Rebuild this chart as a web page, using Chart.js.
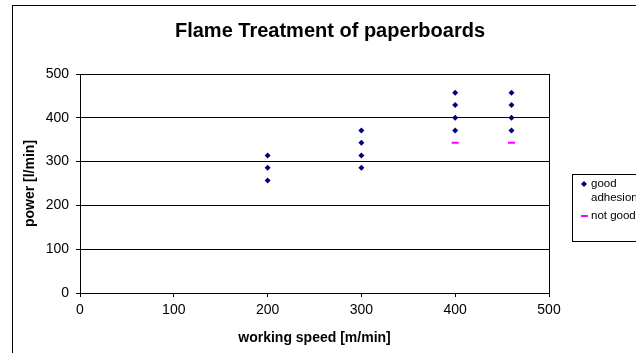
<!DOCTYPE html>
<html>
<head>
<meta charset="utf-8">
<script src="https://cdn.jsdelivr.net/npm/chart.js@4"></script>
<style>
  html, body { margin: 0; padding: 0; background: #ffffff; }
  #c { display: block; }
</style>
</head>
<body>
<canvas id="c" width="636" height="353"></canvas>
<script>
// ---- data ----
const chartTitle = 'Flame Treatment of paperboards';
const xAxisTitle = 'working speed [m/min]';
const yAxisTitle = 'power [l/min]';
const seriesNames = [['good', 'adhesion'], ['not good']];
const goodSpeed = [200, 200, 200, 300, 300, 300, 300, 400, 400, 400, 400, 460, 460, 460, 460];
const goodPower = [257, 286, 314, 286, 314, 343, 371, 371, 400, 429, 457, 371, 400, 429, 457];
const badSpeed = [400, 460];
const badPower = [343, 343];
const xTicks = [0, 100, 200, 300, 400, 500];
const yTicks = [0, 100, 200, 300, 400, 500];

const FONT = '"Liberation Sans", Arial, Helvetica, sans-serif';
const NAVY = '#000080';
const PINK = '#FF00FF';

function toPoints(xs, ys) { return xs.map((x, i) => ({ x: x, y: ys[i] })); }
function al(p) { return Math.round(p - 0.5) + 0.5; }

const framePlugin = {
  id: 'framePlugin',
  beforeDraw(chart) {
    const ctx = chart.ctx;
    ctx.save();
    ctx.fillStyle = '#ffffff';
    ctx.fillRect(0, 0, chart.width, chart.height);
    ctx.strokeStyle = '#000000';
    ctx.lineWidth = 1;
    ctx.strokeRect(12.5, 5.5, 800, 500);
    ctx.restore();
  },
  afterDatasetsDraw(chart) {
    const ctx = chart.ctx;
    const a = chart.chartArea;
    ctx.save();
    // plot area border
    ctx.strokeStyle = '#000000';
    ctx.lineWidth = 1;
    const l = al(a.left), t = al(a.top), r = al(a.right), b = al(a.bottom);
    ctx.strokeRect(l, t, r - l, b - t);
    // title
    ctx.fillStyle = '#000000';
    ctx.font = 'bold 20px ' + FONT;
    ctx.textAlign = 'center';
    ctx.textBaseline = 'alphabetic';
    ctx.fillText(chartTitle, 330, 36.5);
    // legend
    ctx.strokeRect(572.5, 174.5, 200, 67);
    ctx.font = '11.5px ' + FONT;
    ctx.textAlign = 'left';
    ctx.textBaseline = 'middle';
    const ds = chart.data.datasets;
    // good adhesion
    ctx.fillStyle = ds[0].backgroundColor;
    ctx.beginPath();
    ctx.moveTo(584, 181); ctx.lineTo(587, 184); ctx.lineTo(584, 187); ctx.lineTo(581, 184);
    ctx.closePath(); ctx.fill();
    ctx.fillStyle = '#000000';
    seriesNames[0].forEach((s, i) => ctx.fillText(s, 591, 184 + i * 14));
    // not good
    ctx.strokeStyle = ds[1].borderColor;
    ctx.lineWidth = 2;
    ctx.beginPath(); ctx.moveTo(581, 216); ctx.lineTo(588, 216); ctx.stroke();
    ctx.fillStyle = '#000000';
    seriesNames[1].forEach((s, i) => ctx.fillText(s, 591, 216 + i * 14));
    ctx.restore();
  }
};

new Chart(document.getElementById('c'), {
  type: 'scatter',
  data: {
    datasets: [
      {
        label: seriesNames[0].join(' '),
        data: toPoints(goodSpeed, goodPower),
        pointStyle: 'rectRot',
        radius: 3,
        backgroundColor: NAVY,
        borderColor: NAVY,
        borderWidth: 0
      },
      {
        label: seriesNames[1].join(' '),
        data: toPoints(badSpeed, badPower),
        pointStyle: 'line',
        radius: 3.5,
        backgroundColor: PINK,
        borderColor: PINK,
        borderWidth: 2
      }
    ]
  },
  options: {
    responsive: false,
    animation: false,
    devicePixelRatio: 1,
    layout: { padding: { left: 0, right: 87, top: 74, bottom: 0 } },
    plugins: {
      legend: { display: false },
      title: { display: false },
      tooltip: { enabled: false }
    },
    scales: {
      x: {
        type: 'linear',
        min: 0, max: 500,
        afterFit(scale) { scale.height = 60; },
        afterBuildTicks(scale) { scale.ticks = xTicks.map(v => ({ value: v })); },
        ticks: { color: '#000000', font: { family: FONT, size: 14 }, padding: 4.5 },
        grid: { drawOnChartArea: false, drawTicks: true, tickLength: 4, color: '#000000' },
        border: { display: true, color: '#000000' },
        title: { display: true, text: xAxisTitle, color: '#000000', font: { family: FONT, size: 14, weight: 'bold' }, padding: { top: 0, bottom: 6 } }
      },
      y: {
        type: 'linear',
        min: 0, max: 500,
        afterFit(scale) { scale.width = 80; },
        afterBuildTicks(scale) { scale.ticks = yTicks.map(v => ({ value: v })); },
        ticks: { color: '#000000', font: { family: FONT, size: 14 }, padding: 7 },
        grid: { drawOnChartArea: true, drawTicks: true, tickLength: 4, color: '#000000' },
        border: { display: true, color: '#000000' },
        title: { display: true, text: yAxisTitle, color: '#000000', font: { family: FONT, size: 14, weight: 'bold' }, padding: { top: 22, bottom: 0 } }
      }
    }
  },
  plugins: [framePlugin]
});
</script>
</body>
</html>
